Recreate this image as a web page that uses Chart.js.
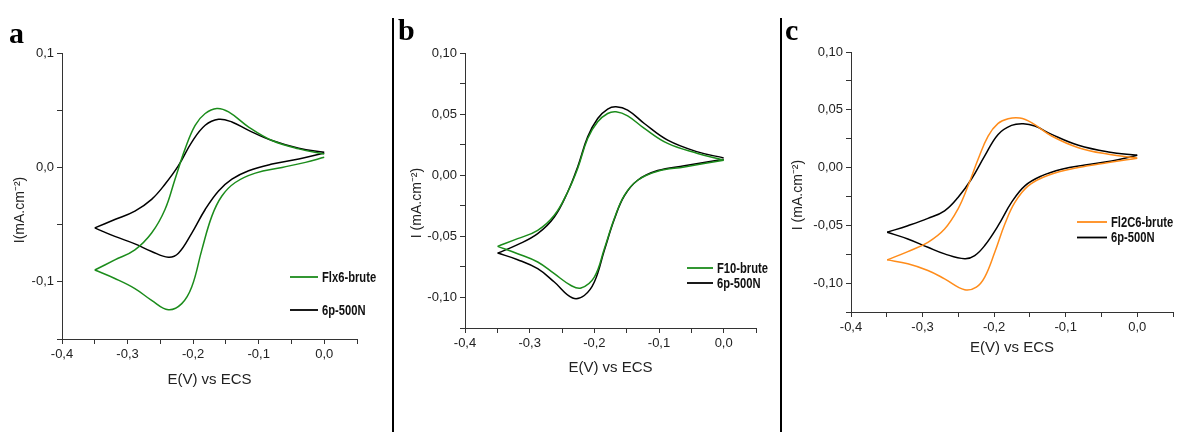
<!DOCTYPE html>
<html>
<head>
<meta charset="utf-8">
<script src="https://cdn.jsdelivr.net/npm/chart.js@4.4.1/dist/chart.umd.min.js"></script>
<style>
  body{margin:0;background:#fff;width:1179px;height:432px;position:relative;overflow:hidden}
  canvas{position:absolute;top:0}
  .tag{position:absolute;font:bold 30px 'Liberation Serif','Times New Roman',serif;line-height:30px;color:#000}
  .sep{position:absolute;top:18px;width:2px;height:414px;background:#000}
</style>
</head>
<body>
<canvas id="ca" width="392" height="432" style="left:0"></canvas>
<canvas id="cb" width="385" height="432" style="left:395px"></canvas>
<canvas id="cc" width="396" height="432" style="left:783px"></canvas>
<div class="sep" style="left:392px"></div>
<div class="sep" style="left:780px"></div>
<div class="tag" style="left:9px;top:18px">a</div>
<div class="tag" style="left:398px;top:15px">b</div>
<div class="tag" style="left:785px;top:15px">c</div>
<script>
// tick positions
const xTicks = [-0.4, -0.35, -0.3, -0.25, -0.2, -0.15, -0.1, -0.05, 0, 0.05];
const yTicksA = [-0.15, -0.1, -0.05, 0, 0.05, 0.1];
const yTicksBC = [-0.125, -0.1, -0.075, -0.05, -0.025, 0, 0.025, 0.05, 0.075, 0.1];

// panel a : Flx6-brute (green) / 6p-500N (black), E in V, I in mA/cm2
const aGreenLowE = [-0.35, -0.3194, -0.2888, -0.2633, -0.2378, -0.2173, -0.202, -0.1867, -0.1714, -0.1561, -0.1357, -0.1051, -0.0643, -0.0286, 0];
const aGreenLowI = [-0.0897, -0.0971, -0.1059, -0.1162, -0.1244, -0.1191, -0.1044, -0.0721, -0.0426, -0.025, -0.0132, -0.005, 0.0, 0.0044, 0.0088];
const aGreenUpE = [-0.35, -0.3194, -0.2888, -0.2633, -0.2429, -0.2276, -0.2122, -0.1969, -0.1816, -0.1638, -0.1459, -0.1153, -0.0796, -0.0388, 0];
const aGreenUpI = [-0.0897, -0.0809, -0.0721, -0.0574, -0.0368, -0.0103, 0.0162, 0.0368, 0.0471, 0.0515, 0.0485, 0.0353, 0.0235, 0.0162, 0.0118];
const aBlackLowE = [-0.35, -0.3194, -0.2888, -0.2633, -0.2378, -0.2224, -0.202, -0.1816, -0.1612, -0.1408, -0.1153, -0.0796, -0.0388, 0];
const aBlackLowI = [-0.0529, -0.0603, -0.0668, -0.0735, -0.0785, -0.075, -0.0574, -0.0368, -0.0206, -0.0103, -0.0029, 0.0029, 0.0074, 0.0126];
const aBlackUpE = [-0.35, -0.3194, -0.2888, -0.2633, -0.2429, -0.2224, -0.202, -0.1816, -0.1612, -0.1408, -0.1153, -0.0796, -0.0388, 0];
const aBlackUpI = [-0.0529, -0.0456, -0.0382, -0.0279, -0.0147, 0.0015, 0.0221, 0.0368, 0.0421, 0.0397, 0.0324, 0.0235, 0.0168, 0.0132];

// panel b : F10-brute (green) / 6p-500N (black)
const bGreenLowE = [-0.3495, -0.3186, -0.2876, -0.2619, -0.2361, -0.2206, -0.2, -0.1845, -0.1691, -0.1536, -0.133, -0.1021, -0.0608, 0];
const bGreenLowI = [-0.0582, -0.0642, -0.071, -0.0806, -0.0902, -0.0923, -0.0833, -0.0601, -0.0355, -0.0164, -0.0041, 0.0033, 0.0068, 0.0123];
const bBlackLowE = [-0.3495, -0.3186, -0.2876, -0.2619, -0.2335, -0.2155, -0.2, -0.1845, -0.1691, -0.1536, -0.133, -0.1021, -0.0608, 0];
const bBlackLowI = [-0.0637, -0.0691, -0.0765, -0.0874, -0.1005, -0.0984, -0.0874, -0.0615, -0.0361, -0.0169, -0.0041, 0.0038, 0.0077, 0.0131];
const bUpE = [-0.3495, -0.3186, -0.2876, -0.2619, -0.2412, -0.2258, -0.2103, -0.1948, -0.1794, -0.1665, -0.1485, -0.1227, -0.0866, -0.0402, 0];
const bGreenUpI = [-0.0582, -0.0519, -0.0451, -0.0328, -0.0137, 0.0055, 0.0301, 0.0437, 0.0505, 0.0519, 0.0486, 0.0383, 0.026, 0.0178, 0.0123];
const bBlackUpI = [-0.0637, -0.0568, -0.0478, -0.0342, -0.0137, 0.0068, 0.0314, 0.0464, 0.0541, 0.056, 0.0533, 0.0423, 0.0287, 0.0191, 0.0142];

// panel c : Fl2C6-brute (orange) / 6p-500N (black)
const cOrangeLowE = [-0.3495, -0.3206, -0.2925, -0.2692, -0.2411, -0.2248, -0.2131, -0.1991, -0.185, -0.171, -0.1523, -0.1243, -0.0822, -0.0402, 0];
const cOrangeLowI = [-0.0799, -0.0833, -0.0891, -0.0963, -0.1057, -0.1034, -0.0948, -0.0733, -0.0489, -0.0302, -0.0158, -0.0066, 0.0, 0.0043, 0.008];
const cOrangeUpE = [-0.3495, -0.3206, -0.2925, -0.2692, -0.2505, -0.2364, -0.2224, -0.2084, -0.1944, -0.1804, -0.164, -0.1477, -0.1196, -0.0822, -0.0402, 0];
const cOrangeUpI = [-0.0799, -0.0727, -0.0647, -0.0532, -0.0359, -0.0158, 0.0072, 0.0273, 0.0382, 0.0422, 0.0428, 0.0388, 0.0273, 0.0172, 0.0115, 0.0083];
const cBlackLowE = [-0.3495, -0.3206, -0.2925, -0.2692, -0.2411, -0.2271, -0.2131, -0.1944, -0.1757, -0.157, -0.1336, -0.1056, -0.0729, -0.0355, 0];
const cBlackLowI = [-0.056, -0.0618, -0.069, -0.0747, -0.079, -0.0762, -0.0675, -0.0503, -0.0302, -0.0158, -0.0072, -0.0014, 0.0023, 0.0057, 0.0106];
const cBlackUpE = [-0.3495, -0.3206, -0.2925, -0.2692, -0.2505, -0.2318, -0.2131, -0.1944, -0.1757, -0.1593, -0.143, -0.1196, -0.0822, -0.0402, 0];
const cBlackUpI = [-0.056, -0.0503, -0.044, -0.0374, -0.0259, -0.0101, 0.0101, 0.0287, 0.0365, 0.0379, 0.0359, 0.0287, 0.0193, 0.0135, 0.0106];

const GREEN = '#1b8c1b', ORANGE = '#ff8c1a', BLACK = '#000';
const FONT = "'Liberation Sans',Arial,sans-serif";

const pts = (E, I) => E.map((x, i) => ({x, y: I[i]}));
const isMul = (v, s) => Math.abs(Math.round(v / s) * s - v) < 1e-9;
const fmt = (v, d) => (Math.round(v * 1000) / 1000 + 0).toFixed(d).replace('.', ',');

function branch(label, color, E, I){
  return {label, data: pts(E, I), borderColor: color, borderWidth: 1.5, showLine: true,
    pointRadius: 0, tension: 0.4, fill: false};
}

// legend drawn inside the plot, Origin style (narrow bold text)
const lineLegend = {
  id: 'lineLegend',
  afterDraw(chart, args, o){
    const ctx = chart.ctx;
    chart.data.datasets.filter(d => d.label).forEach((d, i) => {
      const y = o.y + i * o.dy;
      ctx.save();
      ctx.strokeStyle = d.borderColor; ctx.lineWidth = 1.8;
      ctx.beginPath(); ctx.moveTo(o.x, y); ctx.lineTo(o.x + o.len, y); ctx.stroke();
      ctx.translate(o.x + o.len + 4, y + 1);
      ctx.scale(0.8, 1);
      ctx.fillStyle = '#111'; ctx.font = 'bold 14px ' + FONT; ctx.textBaseline = 'middle';
      ctx.fillText(d.label, 0, 0);
      ctx.restore();
    });
  }
};

// rotated y title
const yTitle = {
  id: 'yTitle',
  afterDraw(chart, args, o){
    const ctx = chart.ctx;
    ctx.save();
    ctx.translate(o.x, o.y); ctx.rotate(-Math.PI / 2);
    ctx.fillStyle = '#222'; ctx.font = '14px ' + FONT;
    ctx.textAlign = 'center'; ctx.textBaseline = 'middle';
    ctx.fillText(o.text, 0, 0);
    ctx.restore();
  }
};

function panel(id, p){
  const axis = (ticks, fit, dec, step) => ({
    type: 'linear', min: ticks[0], max: ticks[ticks.length - 1],
    afterBuildTicks: s => { s.ticks = ticks.map(v => ({value: v})); },
    afterFit: fit,
    ticks: {autoSkip: false, maxRotation: 0, padding: 3, color: '#222', font: {family: FONT, size: 13},
      callback: v => isMul(v, step) ? fmt(v, dec) : ''},
    grid: {drawOnChartArea: false, drawTicks: true, tickLength: 5, color: '#333', tickWidth: 1},
    border: {color: '#333', width: 1}
  });
  const xs = axis(xTicks, s => { s.height = p.xH; }, 1, 0.1);
  xs.position = 'bottom';
  xs.title = {display: true, text: 'E(V) vs ECS', color: '#222', font: {family: FONT, size: 15},
    padding: {top: 0, bottom: p.xTitlePad}};
  const ys = axis(p.yTicks, s => { s.width = p.yW; }, p.yDec, p.yStep);
  ys.position = 'left';
  new Chart(document.getElementById(id), {
    type: 'scatter',
    data: {datasets: p.datasets},
    plugins: [lineLegend, yTitle],
    options: {
      responsive: false, animation: false,
      layout: {padding: {left: 0, right: p.padR, top: p.padT, bottom: 0}},
      scales: {x: xs, y: ys},
      plugins: {legend: {display: false}, tooltip: {enabled: false},
        lineLegend: p.legend, yTitle: p.yTitle}
    }
  });
}

panel('ca', {
  xH: 93, yW: 62, padR: 35, padT: 53, xTitlePad: 43,
  yTicks: yTicksA, yDec: 1, yStep: 0.1,
  legend: {x: 290, y: 277, dy: 33, len: 28},
  yTitle: {x: 20, y: 210, text: 'I(mA.cm\u207B\u00B2)'},
  datasets: [
    branch('Flx6-brute', GREEN, aGreenLowE, aGreenLowI),
    branch('', GREEN, aGreenUpE, aGreenUpI),
    branch('6p-500N', BLACK, aBlackLowE, aBlackLowI),
    branch('', BLACK, aBlackUpE, aBlackUpI)
  ]
});

panel('cb', {
  xH: 104, yW: 70, padR: 24, padT: 53, xTitlePad: 55,
  yTicks: yTicksBC, yDec: 2, yStep: 0.05,
  legend: {x: 292, y: 268, dy: 15, len: 26},
  yTitle: {x: 22, y: 203, text: 'I (mA.cm\u207B\u00B2)'},
  datasets: [
    branch('F10-brute', GREEN, bGreenLowE, bGreenLowI),
    branch('', GREEN, bUpE, bGreenUpI),
    branch('6p-500N', BLACK, bBlackLowE, bBlackLowI),
    branch('', BLACK, bUpE, bBlackUpI)
  ]
});

panel('cc', {
  xH: 120, yW: 68, padR: 6, padT: 52, xTitlePad: 75,
  yTicks: yTicksBC, yDec: 2, yStep: 0.05,
  legend: {x: 294, y: 222, dy: 15.5, len: 30},
  yTitle: {x: 15, y: 195, text: 'I (mA.cm\u207B\u00B2)'},
  datasets: [
    branch('Fl2C6-brute', ORANGE, cOrangeLowE, cOrangeLowI),
    branch('', ORANGE, cOrangeUpE, cOrangeUpI),
    branch('6p-500N', BLACK, cBlackLowE, cBlackLowI),
    branch('', BLACK, cBlackUpE, cBlackUpI)
  ]
});
</script>
</body>
</html>
